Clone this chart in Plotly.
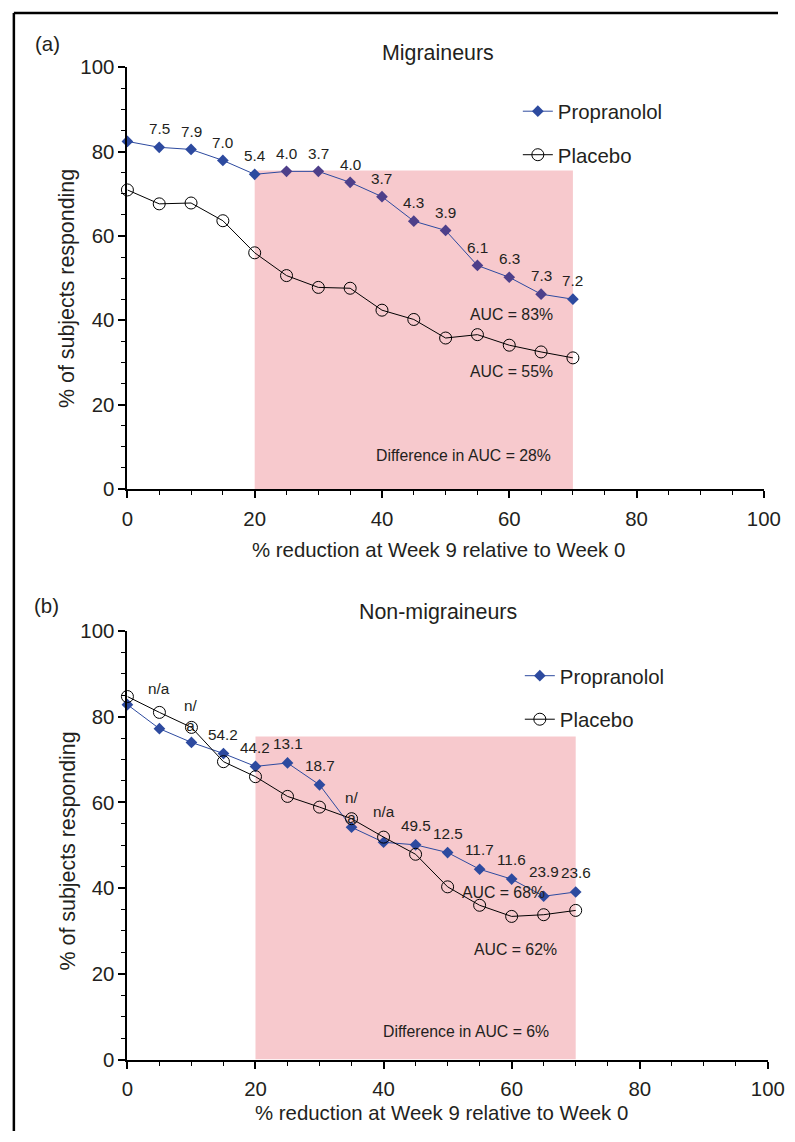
import plotly.graph_objects as go

# ---------------- data ----------------
reduction_pct = [0, 5, 10, 15, 20, 25, 30, 35, 40, 45, 50, 55, 60, 65, 70]

mig_propranolol = [82.4, 81.0, 80.5, 77.9, 74.6, 75.3, 75.3, 72.7, 69.3, 63.5, 61.3, 53.0, 50.2, 46.2, 45.0]
mig_placebo = [70.9, 67.6, 67.8, 63.6, 56.0, 50.6, 47.8, 47.6, 42.4, 40.2, 35.8, 36.6, 34.1, 32.5, 31.1]
mig_labels = ["", "7.5", "7.9", "7.0", "5.4", "4.0", "3.7", "4.0", "3.7", "4.3", "3.9", "6.1", "6.3", "7.3", "7.2"]

non_propranolol = [82.8, 77.2, 74.0, 71.4, 68.4, 69.2, 64.1, 54.2, 50.7, 50.1, 48.3, 44.4, 42.1, 38.1, 39.1]
non_placebo = [84.7, 81.0, 77.5, 69.5, 66.0, 61.4, 58.9, 56.2, 51.9, 47.9, 40.3, 36.0, 33.4, 33.8, 34.8]
non_labels = ["", "n/a", "n/<br>a", "54.2", "44.2", "13.1", "18.7", "n/<br>a", "n/a", "49.5", "12.5", "11.7", "11.6", "23.9", "23.6"]

shade_x = [20, 70]
shade_top = [75.5, 75.4]

auc_mig = ["AUC = 83%", "AUC = 55%", "Difference in AUC = 28%"]
auc_non = ["AUC = 68%", "AUC = 62%", "Difference in AUC = 6%"]

# ---------------- styling ----------------
W, H = 795, 1142
FONT = "Liberation Sans, Arial, Helvetica, sans-serif"
TXT = "#231F20"
BLUE = "#2D4A9F"
PURPLE = "#4E3F8A"
PINK = "rgb(247,201,205)"

# compensation for how the page ends up in the photograph
SX, OX = 0.975, 3.1
SY, OY = 0.9816, 10.5
K = 1 / SY


def px_x(p):
    return ((p - OX) / SX) / W


def px_y(p):
    return 1 - ((p - OY) / SY) / H


def fs(s):
    return round(s * K, 1)


fig = go.Figure()

panels = [
    dict(xa="x", ya="y", prop=mig_propranolol, plac=mig_placebo, legend="legend",
         tint=True),
    dict(xa="x2", ya="y2", prop=non_propranolol, plac=non_placebo, legend="legend2",
         tint=False),
]

for p in panels:
    if p["tint"]:
        mcol = [PURPLE if shade_x[0] < xv < shade_x[1] else BLUE for xv in reduction_pct]
    else:
        mcol = BLUE
    fig.add_trace(go.Scatter(
        x=reduction_pct, y=p["prop"], xaxis=p["xa"], yaxis=p["ya"],
        mode="lines+markers", name="Propranolol", legend=p["legend"],
        legendgroup=p["legend"] + "a",
        line=dict(color=BLUE, width=1),
        marker=dict(symbol="diamond", size=9, color=mcol, line=dict(width=0)),
        cliponaxis=False, hoverinfo="skip"))
    fig.add_trace(go.Scatter(
        x=reduction_pct, y=p["plac"], xaxis=p["xa"], yaxis=p["ya"],
        mode="lines+markers", name="Placebo", legend=p["legend"],
        legendgroup=p["legend"] + "b",
        line=dict(color="black", width=1),
        marker=dict(symbol="circle-open", size=12, color="black", line=dict(width=1)),
        cliponaxis=False, hoverinfo="skip"))

shapes = []
for i, (xa, ya) in enumerate([("x", "y"), ("x2", "y2")]):
    shapes.append(dict(type="rect", xref=xa, yref=ya, x0=shade_x[0], x1=shade_x[1],
                       y0=0, y1=shade_top[i], fillcolor=PINK, line=dict(width=0),
                       layer="below"))
# outer frame (top and left edge of the figure box)
shapes.append(dict(type="line", xref="paper", yref="paper", x0=px_x(11), x1=1,
                   y0=px_y(12.5), y1=px_y(12.5), line=dict(color="black", width=2.5)))
shapes.append(dict(type="line", xref="paper", yref="paper", x0=px_x(11), x1=px_x(11),
                   y0=0, y1=px_y(12.5), line=dict(color="black", width=2.5)))

annotations = []
# data labels
mig_shift = {}
non_shift = {5: 39, 10: 26, 40: 30, 65: 24}
for xv, yv, t in zip(reduction_pct, mig_propranolol, mig_labels):
    if t:
        annotations.append(dict(x=xv, y=yv, xref="x", yref="y", text=t, showarrow=False,
                                yshift=mig_shift.get(xv, 18) * K,
                                font=dict(size=fs(15), color=TXT, family=FONT)))
for xv, yv, t in zip(reduction_pct, non_propranolol, non_labels):
    if t:
        annotations.append(dict(x=xv, y=yv, xref="x2", yref="y2", text=t, showarrow=False,
                                yshift=non_shift.get(xv, 19) * K, align="center",
                                font=dict(size=fs(15), color=TXT, family=FONT)))

# AUC texts
auc_pos_mig = [(60.3, 41.4, 15.5), (60.3, 27.9, 15.5), (52.8, 8.0, 15.5)]
auc_pos_non = [(58.7, 38.9, 15.5), (60.6, 25.6, 15.5), (52.8, 6.5, 15.5)]
for t, (ax, ay, s) in zip(auc_mig, auc_pos_mig):
    annotations.append(dict(x=ax, y=ay, xref="x", yref="y", text=t, showarrow=False,
                            font=dict(size=fs(s), color=TXT, family=FONT)))
for t, (ax, ay, s) in zip(auc_non, auc_pos_non):
    annotations.append(dict(x=ax, y=ay, xref="x2", yref="y2", text=t, showarrow=False,
                            font=dict(size=fs(s), color=TXT, family=FONT)))


# panel letters, titles, axis titles
def paper_text(text, xp, yp, size, angle=0):
    annotations.append(dict(x=px_x(xp), y=px_y(yp), xref="paper", yref="paper", text=text,
                            showarrow=False, textangle=angle, xanchor="center", yanchor="middle",
                            font=dict(size=fs(size), color=TXT, family=FONT)))


paper_text("(a)", 45, 44, 20)
paper_text("Migraineurs", 437, 53, 21)
paper_text("(b)", 44, 606, 20)
paper_text("Non-migraineurs", 437, 612, 21)
paper_text("% of subjects responding", 65, 288, 21, -90)
paper_text("% of subjects responding", 65, 851, 21, -90)
paper_text("% reduction at Week 9 relative to Week 0", 437, 550, 20)
paper_text("% reduction at Week 9 relative to Week 0", 440, 1113, 20)


def xaxis_cfg(domain, anchor):
    return dict(domain=domain, anchor=anchor, range=[0, 100], tick0=0, dtick=20,
                ticks="outside", ticklen=7, tickwidth=1.5, tickcolor="black",
                showline=True, linewidth=2, linecolor="black", showgrid=False, zeroline=False,
                tickfont=dict(size=fs(20), color=TXT, family=FONT), ticklabelstandoff=3,
                ticklabeloverflow="allow",
                minor=dict(dtick=5, ticks="outside", ticklen=4, tickwidth=1.2,
                           tickcolor="black", showgrid=False),
                fixedrange=True)


def yaxis_cfg(domain, anchor):
    return dict(domain=domain, anchor=anchor, range=[0, 100], tick0=0, dtick=20,
                ticks="outside", ticklen=7, tickwidth=1.5, tickcolor="black",
                showline=True, linewidth=2, linecolor="black", showgrid=False, zeroline=False,
                tickfont=dict(size=fs(20), color=TXT, family=FONT),
                minor=dict(dtick=5, ticks="outside", ticklen=4, tickwidth=1.2,
                           tickcolor="black", showgrid=False),
                fixedrange=True)


legend_common = dict(xanchor="left", yanchor="top", xref="paper", yref="paper",
                     bgcolor="rgba(0,0,0,0)", borderwidth=0, tracegroupgap=14,
                     itemwidth=30, font=dict(size=fs(20), color=TXT, family=FONT))

fig.update_layout(
    width=W, height=H,
    margin=dict(l=0, r=0, t=0, b=0),
    paper_bgcolor="white", plot_bgcolor="rgba(0,0,0,0)",
    showlegend=True,
    xaxis=xaxis_cfg([px_x(125), px_x(764)], "y"),
    yaxis=yaxis_cfg([px_y(489), px_y(66.7)], "x"),
    xaxis2=xaxis_cfg([px_x(125), px_x(768)], "y2"),
    yaxis2=yaxis_cfg([px_y(1060), px_y(631)], "x2"),
    legend=dict(x=px_x(517), y=px_y(91), **legend_common),
    legend2=dict(x=px_x(519), y=px_y(656), **legend_common),
    shapes=shapes,
    annotations=annotations,
    font=dict(family=FONT, color=TXT),
)

post = (
    "var d=document.getElementById('{plot_id}');"
    "d.style.position='fixed';d.style.top='0px';d.style.left='0px';d.style.margin='0';"
    "document.documentElement.style.overflow='hidden';"
    "document.body.style.overflow='hidden';"
    "document.body.style.margin='0';document.body.style.padding='0';"
)

fig.write_html("out.html", config={"displayModeBar": False}, post_script=post)
